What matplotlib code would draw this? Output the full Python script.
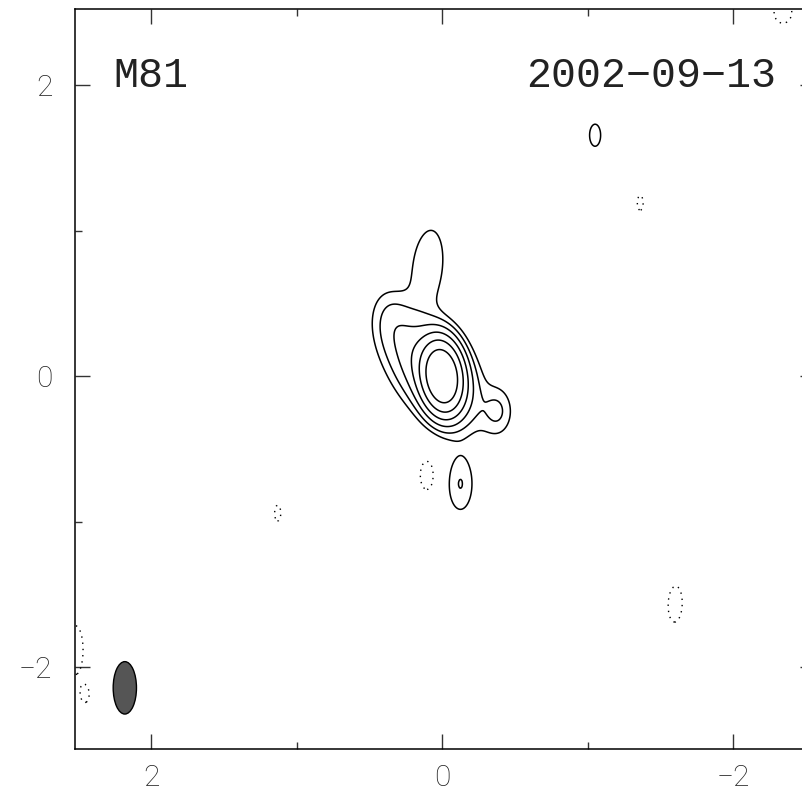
import numpy as np
import matplotlib
matplotlib.use("Agg")
import matplotlib.pyplot as plt
from matplotlib.patches import Ellipse
from matplotlib.ticker import FixedLocator

# Clean-component model of the map (offsets in mas, peak-normalised flux)
# core, halo, NE lobe, N finger, SW bump, S knot, neg S, pos N, negs ...
comp_x = [0.00, 0.06, 0.34, 0.10, -0.38, -0.125, 0.105, -1.05, -1.36, 1.13, -1.60, -2.34, 2.52, 2.45]
comp_y = [0.00, 0.03, 0.37, 0.75, -0.24, -0.74, -0.68, 1.655, 1.19, -0.94, -1.565, 2.50, -1.88, -2.19]
comp_amp = [1.0, 0.14, 0.029, 0.025, 0.03, 0.0306, -0.02, 0.02, -0.018, -0.018, -0.019, -0.02, -0.02, -0.017]
comp_sa = [0.135, 0.23, 0.15, 0.25, 0.07, 0.146, 0.13, 0.10, 0.085, 0.09, 0.18, 0.10, 0.22, 0.06]
comp_sb = [0.076, 0.135, 0.09, 0.10, 0.11, 0.066, 0.06, 0.05, 0.033, 0.035, 0.07, 0.08, 0.07, 0.03]
comp_pa = [84, 54, 80, 96, 0, 90, 90, 90, 90, 90, 92, 90, 90, 90]

levels_pos = [0.015, 0.03, 0.06, 0.12, 0.24, 0.48]
levels_neg = [-0.015]

beam_x, beam_y = 2.18, -2.14
beam_w, beam_h = 0.16, 0.36

source = "M81"
epoch = "2002\u221209\u221213"

xg = np.linspace(-2.7, 2.7, 700)
yg = np.linspace(-2.7, 2.7, 700)
X, Y = np.meshgrid(xg, yg)
Z = np.zeros_like(X)
for x0, y0, a, sa, sb, pa in zip(comp_x, comp_y, comp_amp, comp_sa, comp_sb, comp_pa):
    t = np.radians(pa)
    u = (X - x0) * np.cos(t) + (Y - y0) * np.sin(t)
    v = -(X - x0) * np.sin(t) + (Y - y0) * np.cos(t)
    Z += a * np.exp(-0.5 * ((u / sa) ** 2 + (v / sb) ** 2))

fig = plt.figure(figsize=(8.03, 7.92), dpi=100)
ax = fig.add_axes([0.0938, 0.0543, 0.9211, 0.934])

ax.contour(X, Y, Z, levels=levels_pos, colors="k", linewidths=1.1)
ax.contour(X, Y, Z, levels=levels_neg, colors="k", linewidths=1.0,
           linestyles=[(0, (1, 3.5))])

ax.add_patch(Ellipse((beam_x, beam_y), beam_w, beam_h, facecolor="#555555",
                     edgecolor="k", lw=1.0))

ax.set_xlim(2.52, -2.56)
ax.set_ylim(-2.56, 2.52)
ax.set_aspect("auto")

for a in (ax.xaxis, ax.yaxis):
    a.set_major_locator(FixedLocator([-2, 0, 2]))
    a.set_minor_locator(FixedLocator([-1, 1]))
ax.tick_params(which="both", direction="in", top=True, right=True, color="#333333")
ax.tick_params(which="major", length=10.8, width=1.0)
ax.tick_params(which="minor", length=5.0, width=1.0)
ax.tick_params(axis="x", pad=10.5)
ax.tick_params(axis="y", pad=16.5)
for lab in ax.get_xticklabels() + ax.get_yticklabels():
    lab.set_family(["Roboto", "DejaVu Sans"])
    lab.set_fontweight("light")
    lab.set_fontsize(21.5)
    lab.set_color("#222222")
for s in ax.spines.values():
    s.set_linewidth(1.1)

ax.text(0.051, 0.895, source, transform=ax.transAxes, ha="left", va="baseline",
        fontsize=30, family=["Liberation Mono", "DejaVu Sans Mono"], color="#222222")
ax.text(0.947, 0.895, epoch, transform=ax.transAxes, ha="right", va="baseline",
        fontsize=30, family=["Liberation Mono", "DejaVu Sans Mono"], color="#222222")

fig.savefig("out.png", dpi=100)
